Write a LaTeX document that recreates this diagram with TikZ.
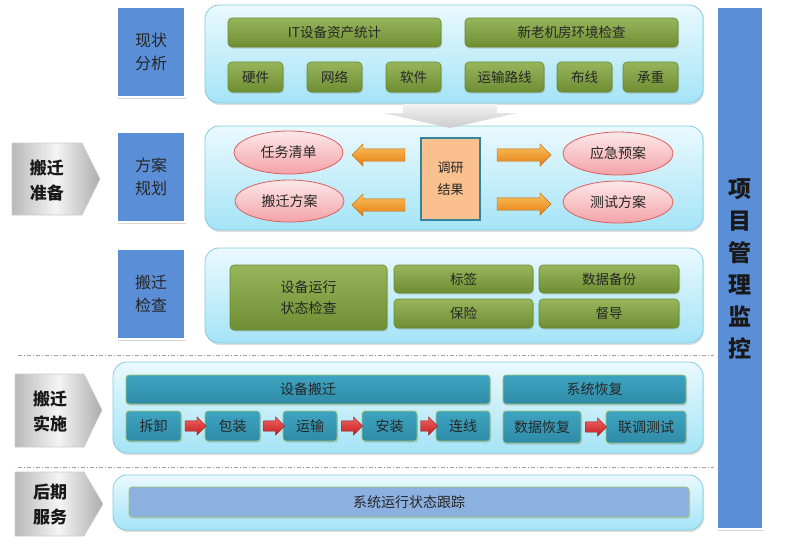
\documentclass[tikz,border=0pt]{standalone}
\usepackage{fontspec}
\setmainfont{Noto Sans CJK SC}
\usetikzlibrary{shapes.arrows,shapes.geometric,shadows,calc}
\definecolor{panelB}{HTML}{86CBDF}
\definecolor{panelT}{HTML}{EAF9FE}
\definecolor{panelBot}{HTML}{A4E4F6}
\definecolor{blueF}{HTML}{5A8ED6}
\definecolor{greenT}{HTML}{97B55A}
\definecolor{greenB}{HTML}{6F8D33}
\definecolor{greenD}{HTML}{6A8A30}
\definecolor{pinkT}{HTML}{FDE8E9}
\definecolor{pinkB}{HTML}{F3A3A8}
\definecolor{pinkD}{HTML}{DE5F5F}
\definecolor{resF}{HTML}{FAC08F}
\definecolor{resD}{HTML}{31849B}
\definecolor{orT}{HTML}{FCC25E}
\definecolor{orB}{HTML}{E47D13}
\definecolor{tealT}{HTML}{3EA4C1}
\definecolor{tealB}{HTML}{2E8BA7}
\definecolor{tealD}{HTML}{A0C470}
\definecolor{redT}{HTML}{F26363}
\definecolor{redB}{HTML}{C21E1E}
\definecolor{trackF}{HTML}{8CB0E0}
\newcommand\mkbox[7]{\node[#6,minimum width={(#4)-(#2)},minimum height={(#5)-(#3)}] (#1) at ({((#2)+(#4))/2},{((#3)+(#5))/2}) {#7};}
\begin{document}
\begin{tikzpicture}[x=1pt,y=-1pt,
  every node/.style={inner sep=0pt,outer sep=0pt},
  panel/.style={rounded corners=14pt,draw=panelB,line width=0.8pt,top color=panelT,bottom color=panelBot,
    drop shadow={shadow xshift=1pt,shadow yshift=-2pt,opacity=0.25}},
  bluebox/.style={fill=blueF,draw=white,line width=2.5pt,
    drop shadow={shadow xshift=1pt,shadow yshift=-1.5pt,opacity=0.3},
    font=\fontsize{16}{23}\selectfont,text=black!85,align=center},
  chev/.style={left color=gray!55,right color=gray!65,middle color=gray!8,draw=gray!40,line width=0.6pt},
  chevtext/.style={font=\bfseries\fontsize{17}{25}\selectfont,text=black!90,align=center},
  greenbar/.style={rounded corners=4pt,top color=greenT,bottom color=greenB,draw=greenD,line width=0.6pt,
    drop shadow={shadow xshift=1pt,shadow yshift=-1.5pt,opacity=0.3},
    font=\fontsize{13.5}{21}\selectfont,text=black!85,align=center},
  pinkell/.style={ellipse,top color=pinkT,bottom color=pinkB,draw=pinkD,line width=0.8pt,
    font=\fontsize{14}{17}\selectfont,text=black!85},
  resbox/.style={fill=resF,draw=resD,line width=1.6pt,font=\fontsize{13}{22}\selectfont,text=black!85,align=center},
  orarrow/.style={single arrow,single arrow head extend=5pt,inner ysep=6pt,inner xsep=0pt,
    top color=orT,bottom color=orB,draw=orB!80!black,line width=0.3pt},
  tealbox/.style={rounded corners=3pt,top color=tealT,bottom color=tealB,draw=tealD,line width=0.8pt,
    drop shadow={shadow xshift=1pt,shadow yshift=-1.5pt,opacity=0.3},
    font=\fontsize{14}{17}\selectfont,text=black!85},
  redarrow/.style={single arrow,single arrow head extend=4pt,inner ysep=5pt,inner xsep=0pt,
    top color=redT,bottom color=redB,draw=redB!80!black,line width=0.3pt},
  trackbar/.style={rounded corners=3pt,fill=trackF,draw=tealD,line width=0.8pt,
    drop shadow={shadow xshift=1pt,shadow yshift=-1.5pt,opacity=0.3},
    font=\fontsize{14}{17}\selectfont,text=black!85},
  sep/.style={draw=gray!75,line width=0.8pt,dash pattern=on 4pt off 2pt on 1pt off 2pt},
  downarrow/.style={top color=gray!10,bottom color=gray!40,draw=none},
  bigbar/.style={fill=blueF,draw=white,line width=2.5pt,
    drop shadow={shadow xshift=1pt,shadow yshift=-1.5pt,opacity=0.3}}
]
\useasboundingbox (0,0) rectangle (793,547);
\fill[white] (0,0) rectangle (793,547);

% separators
\coordinate (s1a) at (18,355); \coordinate (s1b) at (714,355);
\coordinate (s2a) at (18,467); \coordinate (s2b) at (714,467);
\draw[sep] (s1a) -- (s1b);
\draw[sep] (s2a) -- (s2b);

% panels
\mkbox{p1}{205}{5}{703}{103}{panel}{}
\mkbox{p2}{205}{126}{703}{230}{panel}{}
\mkbox{p3}{205}{248}{703}{343}{panel}{}
\mkbox{p4}{113}{362}{703}{453}{panel}{}
\mkbox{p5}{113}{475}{703}{530}{panel}{}

% blue boxes
\mkbox{b1}{117}{7}{185}{97}{bluebox}{现状\\分析}
\mkbox{b2}{117}{132}{185}{222}{bluebox}{方案\\规划}
\mkbox{b3}{117}{249}{185}{339}{bluebox}{搬迁\\检查}

% right bar
\mkbox{pm}{717}{7}{763}{529}{bigbar}{}
\node[font=\bfseries\fontsize{23}{32}\selectfont,text=black!90,align=center] (pmt) at (740,269) {项\\目\\管\\理\\监\\控};

% chevrons
\path[chev] (12,143) -- (82,143) -- (100,179) -- (82,215) -- (12,215) -- cycle;
\node[chevtext] (c1) at (47,180) {搬迁\\准备};
\path[chev] (15,374) -- (84,374) -- (102,410) -- (84,447) -- (15,447) -- cycle;
\node[chevtext] (c2) at (50,411) {搬迁\\实施};
\path[chev] (15,472) -- (84,472) -- (103,504) -- (84,536) -- (15,536) -- cycle;
\node[chevtext] (c3) at (50,505) {后期\\服务};

% panel 1
\mkbox{g1}{228}{18}{441}{47}{greenbar}{IT设备资产统计}
\mkbox{g2}{465}{18}{678}{47}{greenbar}{新老机房环境检查}
\mkbox{g3}{228}{62}{283}{92}{greenbar}{硬件}
\mkbox{g4}{307}{62}{362}{92}{greenbar}{网络}
\mkbox{g5}{386}{62}{441}{92}{greenbar}{软件}
\mkbox{g6}{465}{62}{544}{92}{greenbar}{运输路线}
\mkbox{g7}{557}{62}{612}{92}{greenbar}{布线}
\mkbox{g8}{623}{62}{678}{92}{greenbar}{承重}

% down arrow
\path[downarrow] (403,104) -- (497,104) -- (497,113) -- (517,113) -- (450,128) -- (383,113) -- (403,113) -- cycle;

% panel 2
\mkbox{e1}{234}{131}{343}{174}{pinkell}{任务清单}
\mkbox{e2}{235}{180}{344}{222}{pinkell}{搬迁方案}
\mkbox{e3}{563}{132}{673}{175}{pinkell}{应急预案}
\mkbox{e4}{563}{181}{673}{223}{pinkell}{测试方案}
\mkbox{res}{421}{138}{480}{220}{resbox}{调研\\结果}
\node[orarrow,shape border rotate=180,minimum height=53pt] (a1) at (381.5,155) {};
\node[orarrow,shape border rotate=180,minimum height=53pt] (a2) at (381.5,205) {};
\node[orarrow,minimum height=54pt] (a3) at (521,155) {};
\node[orarrow,minimum height=54pt] (a4) at (521,204) {};

% panel 3
\mkbox{k1}{230}{265}{387}{330}{greenbar,font=\fontsize{14}{21}\selectfont}{设备运行\\状态检查}
\mkbox{k2}{394}{265}{533}{293}{greenbar}{标签}
\mkbox{k3}{394}{299}{533}{328}{greenbar}{保险}
\mkbox{k4}{539}{265}{679}{293}{greenbar}{数据备份}
\mkbox{k5}{539}{299}{679}{328}{greenbar}{督导}

% panel 4
\mkbox{t0}{126}{375}{490}{404}{tealbox}{设备搬迁}
\mkbox{t6}{503}{375}{686}{404}{tealbox}{系统恢复}
\mkbox{t1}{126}{411}{181}{441}{tealbox}{拆卸}
\mkbox{t2}{205}{411}{260}{441}{tealbox}{包装}
\mkbox{t3}{283}{411}{337}{441}{tealbox}{运输}
\mkbox{t4}{362}{411}{417}{441}{tealbox}{安装}
\mkbox{t5}{436}{411}{490}{441}{tealbox}{连线}
\mkbox{t7}{503}{411}{581}{443}{tealbox}{数据恢复}
\mkbox{t8}{606}{411}{686}{443}{tealbox}{联调测试}
\node[redarrow,minimum height=21pt] (r1) at ($(t1.east)!0.5!(t2.west)$) {};
\node[redarrow,minimum height=21pt] (r2) at ($(t2.east)!0.5!(t3.west)$) {};
\node[redarrow,minimum height=21pt] (r3) at ($(t3.east)!0.5!(t4.west)$) {};
\node[redarrow,minimum height=17pt] (r4) at ($(t4.east)!0.5!(t5.west)$) {};
\node[redarrow,minimum height=21pt] (r5) at ($(t7.east)!0.5!(t8.west)$) {};

% panel 5
\mkbox{tr}{129}{487}{689}{517}{trackbar}{系统运行状态跟踪}
\end{tikzpicture}
\end{document}
